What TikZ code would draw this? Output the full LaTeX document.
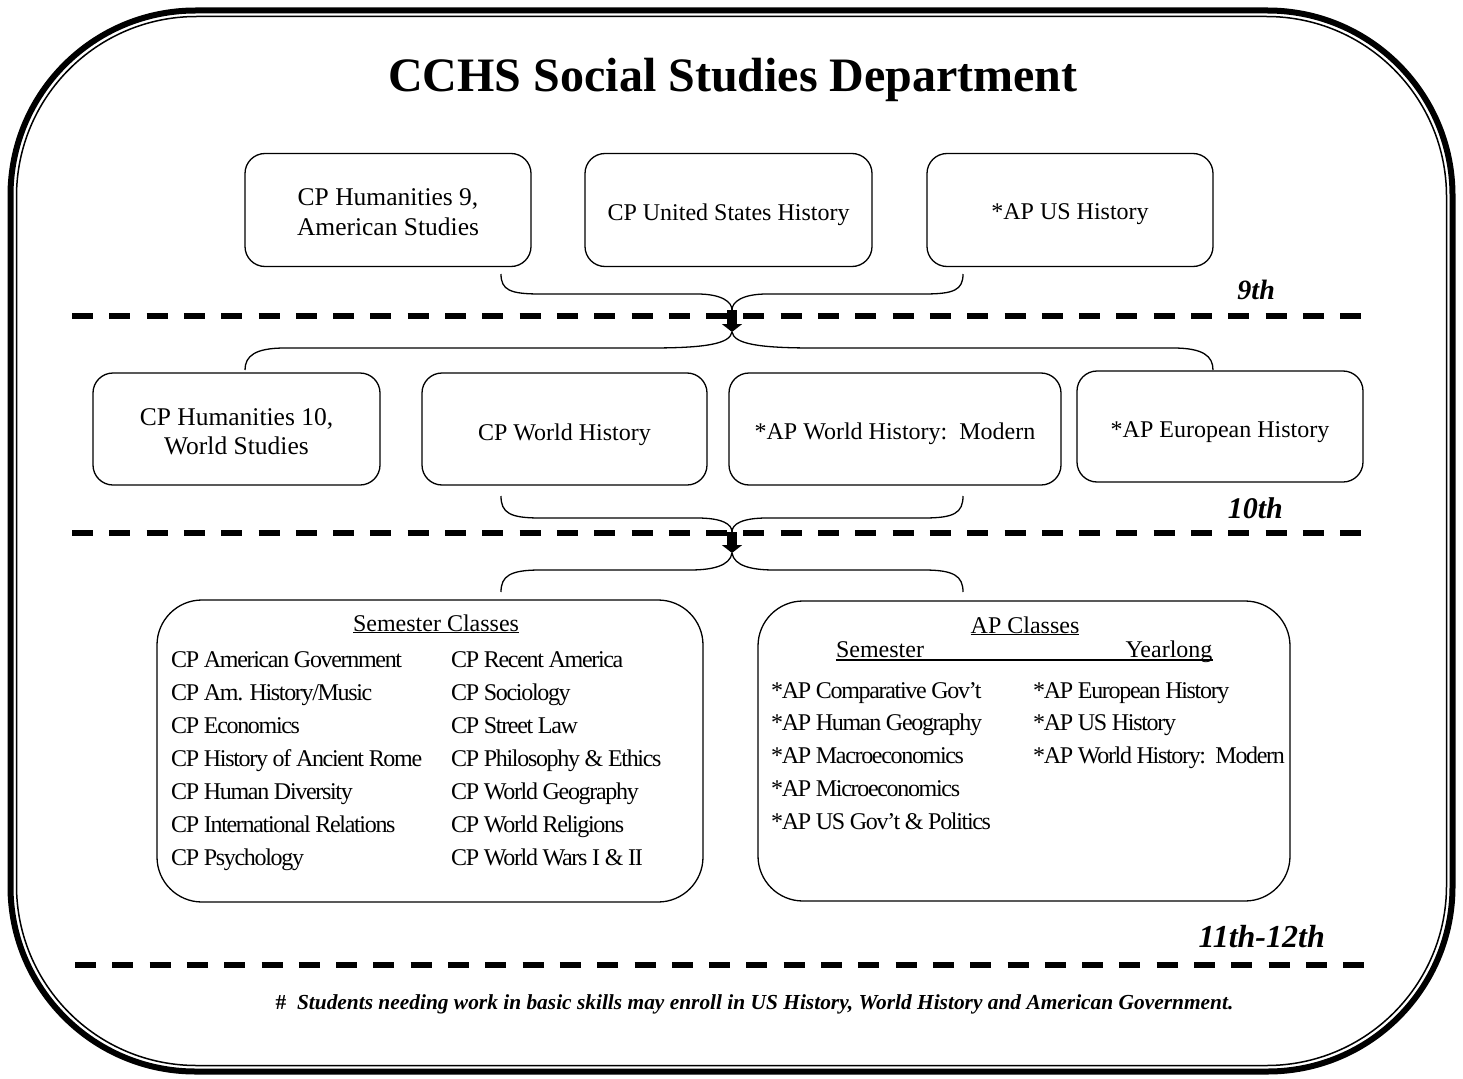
\documentclass[tikz,border=0pt]{standalone}
\usepackage{fontspec}
\setmainfont{Liberation Serif}
\newfontfamily\condfont[LetterSpace=-5.5]{Liberation Serif}
\usetikzlibrary{arrows.meta}
\tikzset{
  box/.style={draw, line width=1.3pt, rounded corners=20pt, inner sep=0pt},
  boxtext/.style={align=center, inner sep=0pt, font=\fontsize{24}{30}\selectfont},
  boxtexttwo/.style={align=center, inner sep=0pt, font=\fontsize{25.5}{29.5}\selectfont},
  bigbox/.style={draw, line width=1.3pt, rounded corners=45pt},
  sep/.style={line width=6.5pt, dash pattern=on 21pt off 16.3pt},
  brace/.style={line width=1.3pt},
  gradearrow/.style={line width=10pt, -{Triangle[length=8pt,width=20pt]}},
  grade/.style={font=\bfseries\itshape, anchor=base east, inner sep=0pt},
  item/.style={font=\condfont\fontsize{24}{28}\selectfont, anchor=base west, inner sep=0pt},
  head/.style={font=\fontsize{24}{28}\selectfont, anchor=base, inner sep=0pt}
}
\begin{document}
\begin{tikzpicture}[x=1pt,y=-1pt]
\useasboundingbox (0,0) rectangle (1463,1078);
% outer border
\draw[line width=6pt, rounded corners=185pt] (10.5,10.5) rectangle (1452.5,1071.5);
\draw[line width=1.5pt, rounded corners=180pt] (16.5,16.5) rectangle (1446.5,1065.5);
% title
\node[font=\fontsize{48}{56}\selectfont\bfseries] (title) at (733,80) {CCHS Social Studies Department};
% row 1
\node[box, minimum width=286pt, minimum height=113pt] (b11) at (388,210) {};
\node[box, minimum width=287pt, minimum height=113pt] (b12) at (728.5,210) {};
\node[box, minimum width=286pt, minimum height=113pt] (b13) at (1070,210) {};
\node[boxtexttwo] (t11) at (388,212) {CP Humanities 9,\\American Studies};
\node[boxtext] (t12) at (728.5,215) {CP United States History};
\node[boxtext] (t13) at (1070,214) {*AP US History};
% braces row 1
\coordinate (L1) at (501,274);
\coordinate (R1) at (963,274);
\coordinate (C1) at (732,310);
\coordinate (C1b) at (732,332);
\coordinate (LL1) at (245,370);
\coordinate (RL1) at (1213,370);
\draw[brace] (L1) .. controls (501,290) and (510,294) .. (540,294) -- (697,294) .. controls (722,294) and (732,302) .. (C1);
\draw[brace] (R1) .. controls (963,290) and (954,294) .. (924,294) -- (767,294) .. controls (742,294) and (732,302) .. (C1);
\draw[brace] (C1b) .. controls (730,344) and (705,348) .. (650,348) -- (285,348) .. controls (255,348) and (245,356) .. (LL1);
\draw[brace] (C1b) .. controls (734,344) and (759,348) .. (814,348) -- (1173,348) .. controls (1203,348) and (1213,356) .. (RL1);
\coordinate (d1a) at (72,316);
\coordinate (d1b) at (1362,316);
\draw[sep] (d1a) -- (d1b);
\draw[gradearrow] (C1) -- (C1b);
\node[grade, font=\fontsize{28}{32}\selectfont\bfseries\itshape] (g9) at (1275,299) {9th};
% row 2
\node[box, minimum width=287pt, minimum height=112pt] (b21) at (236.5,429) {};
\node[box, minimum width=285pt, minimum height=112pt] (b22) at (564.5,429) {};
\node[box, minimum width=332pt, minimum height=112pt] (b23) at (895,429) {};
\node[box, minimum width=286pt, minimum height=111pt] (b24) at (1220,426.5) {};
\node[boxtexttwo] (t21) at (236.5,431.5) {CP Humanities 10,\\World Studies};
\node[boxtext] (t22) at (564.5,435) {CP World History};
\node[boxtext] (t23) at (895,434) {*AP World History:\ \ Modern};
\node[boxtext] (t24) at (1220,432) {*AP European History};
% braces row 2
\coordinate (L2) at (501,496);
\coordinate (R2) at (963,496);
\coordinate (C2) at (732,532);
\coordinate (C2b) at (732,553);
\coordinate (LL2) at (501,592);
\coordinate (RL2) at (963,592);
\draw[brace] (L2) .. controls (501,513) and (510,518) .. (540,518) -- (697,518) .. controls (722,518) and (732,524) .. (C2);
\draw[brace] (R2) .. controls (963,513) and (954,518) .. (924,518) -- (767,518) .. controls (742,518) and (732,524) .. (C2);
\draw[brace] (C2b) .. controls (730,566) and (712,570) .. (690,570) -- (540,570) .. controls (510,570) and (501,576) .. (LL2);
\draw[brace] (C2b) .. controls (734,566) and (752,570) .. (774,570) -- (924,570) .. controls (954,570) and (963,576) .. (RL2);
\coordinate (d2a) at (72,533);
\coordinate (d2b) at (1362,533);
\draw[sep] (d2a) -- (d2b);
\draw[gradearrow] (C2) -- (C2b);
\node[grade, font=\fontsize{30}{34}\selectfont\bfseries\itshape] (g10) at (1283,518) {10th};
% row 3 boxes
\draw[bigbox] (157,600) rectangle (703,902);
\draw[bigbox] (758,601) rectangle (1290,901);
\node[head] (semc) at (436,631) {\underline{Semester Classes}};
\foreach \t [count=\i from 0] in {CP American Government, CP Am. History/Music, CP Economics, CP History of Ancient Rome, CP Human Diversity, CP International Relations, CP Psychology}
  \node[item] (sl\i) at (171,667+33*\i) {\t};
\foreach \t [count=\i from 0] in {CP Recent America, CP Sociology, CP Street Law, CP Philosophy \& Ethics, CP World Geography, CP World Religions, CP World Wars I \& II}
  \node[item] (sr\i) at (451,667+33*\i) {\t};
\node[head] (apc) at (1025,633) {\underline{AP Classes}};
\node[head] (semh) at (880,657) {Semester};
\node[head] (yrh) at (1169,657) {Yearlong};
\draw[line width=1.2pt] ([yshift=-3pt]semh.base west) -- ([yshift=-3pt]yrh.base east);
\foreach \t [count=\i from 0] in {*AP Comparative Gov’t, *AP Human Geography, *AP Macroeconomics, *AP Microeconomics, *AP US Gov’t \& Politics}
  \node[item] (al\i) at (771,698+32.75*\i) {\t};
\foreach \t [count=\i from 0] in {*AP European History, *AP US History, *AP World History:\ \ Modern}
  \node[item] (ar\i) at (1033,698+32.75*\i) {\t};
% row 3 separator
\coordinate (d3a) at (75,965);
\coordinate (d3b) at (1368,965);
\draw[sep] (d3a) -- (d3b);
\node[grade, font=\fontsize{32}{36}\selectfont\bfseries\itshape] (g11) at (1325,947) {11th-12th};
\node[font=\fontsize{21.4}{25}\selectfont\bfseries] (note) at (754.5,1004) {\#\ \ \itshape Students needing work in basic skills may enroll in US History, World History and American Government.};
\end{tikzpicture}
\end{document}
